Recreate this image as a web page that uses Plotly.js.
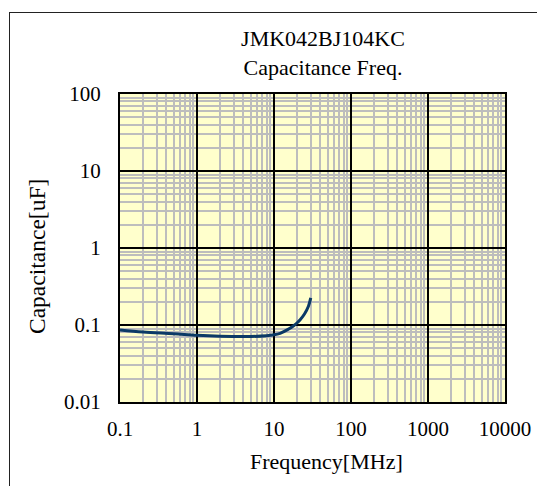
<!DOCTYPE html>
<html>
<head>
<meta charset="utf-8">
<script src="https://cdn.plot.ly/plotly-3.0.1.min.js"></script>
<style>
  html, body { margin: 0; padding: 0; background: #fff; overflow: hidden; width: 537px; height: 486px; }
  #frame { position: absolute; left: 9px; top: 12px; width: 900px; height: 900px; border: 1.5px solid #222; box-sizing: border-box; }
  #chart { position: absolute; left: 0; top: 0; width: 537px; height: 486px; }
</style>
</head>
<body>
<div id="frame"></div>
<div id="chart"></div>
<script>
// Data
const frequencyMHz = [0.1, 0.2, 0.5, 1, 2, 5, 8, 10, 12, 15, 18, 20, 22, 25, 28, 30];
const capacitanceUF = [0.086, 0.081, 0.077, 0.0735, 0.0715, 0.071, 0.0725, 0.0745, 0.078, 0.087, 0.098, 0.107, 0.118, 0.14, 0.175, 0.225];
const xTickVals = [0.1, 1, 10, 100, 1000, 10000];
const xTickText = ["0.1", "1", "10", "100", "1000", "10000"];
const yTickVals = [0.01, 0.1, 1, 10, 100];
const yTickText = ["0.01", "0.1", "1", "10", "100"];
const chartTitle = "JMK042BJ104KC<br>Capacitance Freq.";
const xTitle = "Frequency[MHz]";
const yTitle = "Capacitance[uF]";

const FONT = "Liberation Serif, Times New Roman, serif";

const trace = {
  x: frequencyMHz,
  y: capacitanceUF,
  type: "scatter",
  mode: "lines",
  line: { color: "#0b3a66", width: 3, shape: "spline", smoothing: 1 },
  hoverinfo: "skip"
};

const axisCommon = {
  type: "log",
  showgrid: true,
  gridcolor: "#000000",
  gridwidth: 1.3,
  showline: true,
  linecolor: "#000000",
  linewidth: 2,
  mirror: true,
  zeroline: false,
  ticks: "",
  tickmode: "array",
  tickfont: { family: FONT, size: 21, color: "#000" },
  minor: { showgrid: true, gridcolor: "#bdbdbd", gridwidth: 2, dtick: "D1", ticks: "" },
  fixedrange: true
};

const layout = {
  width: 537,
  height: 486,
  margin: { l: 120, r: 32, t: 94, b: 84 },
  paper_bgcolor: "rgba(0,0,0,0)",
  plot_bgcolor: "#ffffcc",
  showlegend: false,
  font: { family: FONT, color: "#000", size: 21 },
  title: {
    text: chartTitle,
    font: { family: FONT, size: 22, color: "#000" },
    xref: "container", x: 323 / 537, xanchor: "center",
    yref: "container", y: 1 - 46 / 486, yanchor: "top"
  },
  xaxis: Object.assign({}, axisCommon, {
    range: [-1, 4],
    tickvals: xTickVals,
    ticktext: xTickText,
    ticklabelstandoff: 7
  }),
  yaxis: Object.assign({}, axisCommon, {
    range: [-2, 2],
    tickvals: yTickVals,
    ticktext: yTickText,
    ticklabelstandoff: 13
  }),
  annotations: [
    {
      text: xTitle, xref: "paper", yref: "paper",
      x: (326 - 120) / 385, y: -(476 - 402) / 308, xanchor: "center", yanchor: "bottom",
      showarrow: false, font: { family: FONT, size: 22, color: "#000" }
    },
    {
      text: yTitle, xref: "paper", yref: "paper", textangle: -90,
      x: -(120 - 37) / 385, y: 1 - (257 - 94) / 308, xanchor: "center", yanchor: "middle",
      showarrow: false, font: { family: FONT, size: 23.5, color: "#000" }
    }
  ]
};

Plotly.newPlot("chart", [trace], layout, { displayModeBar: false, staticPlot: true });
</script>
</body>
</html>
